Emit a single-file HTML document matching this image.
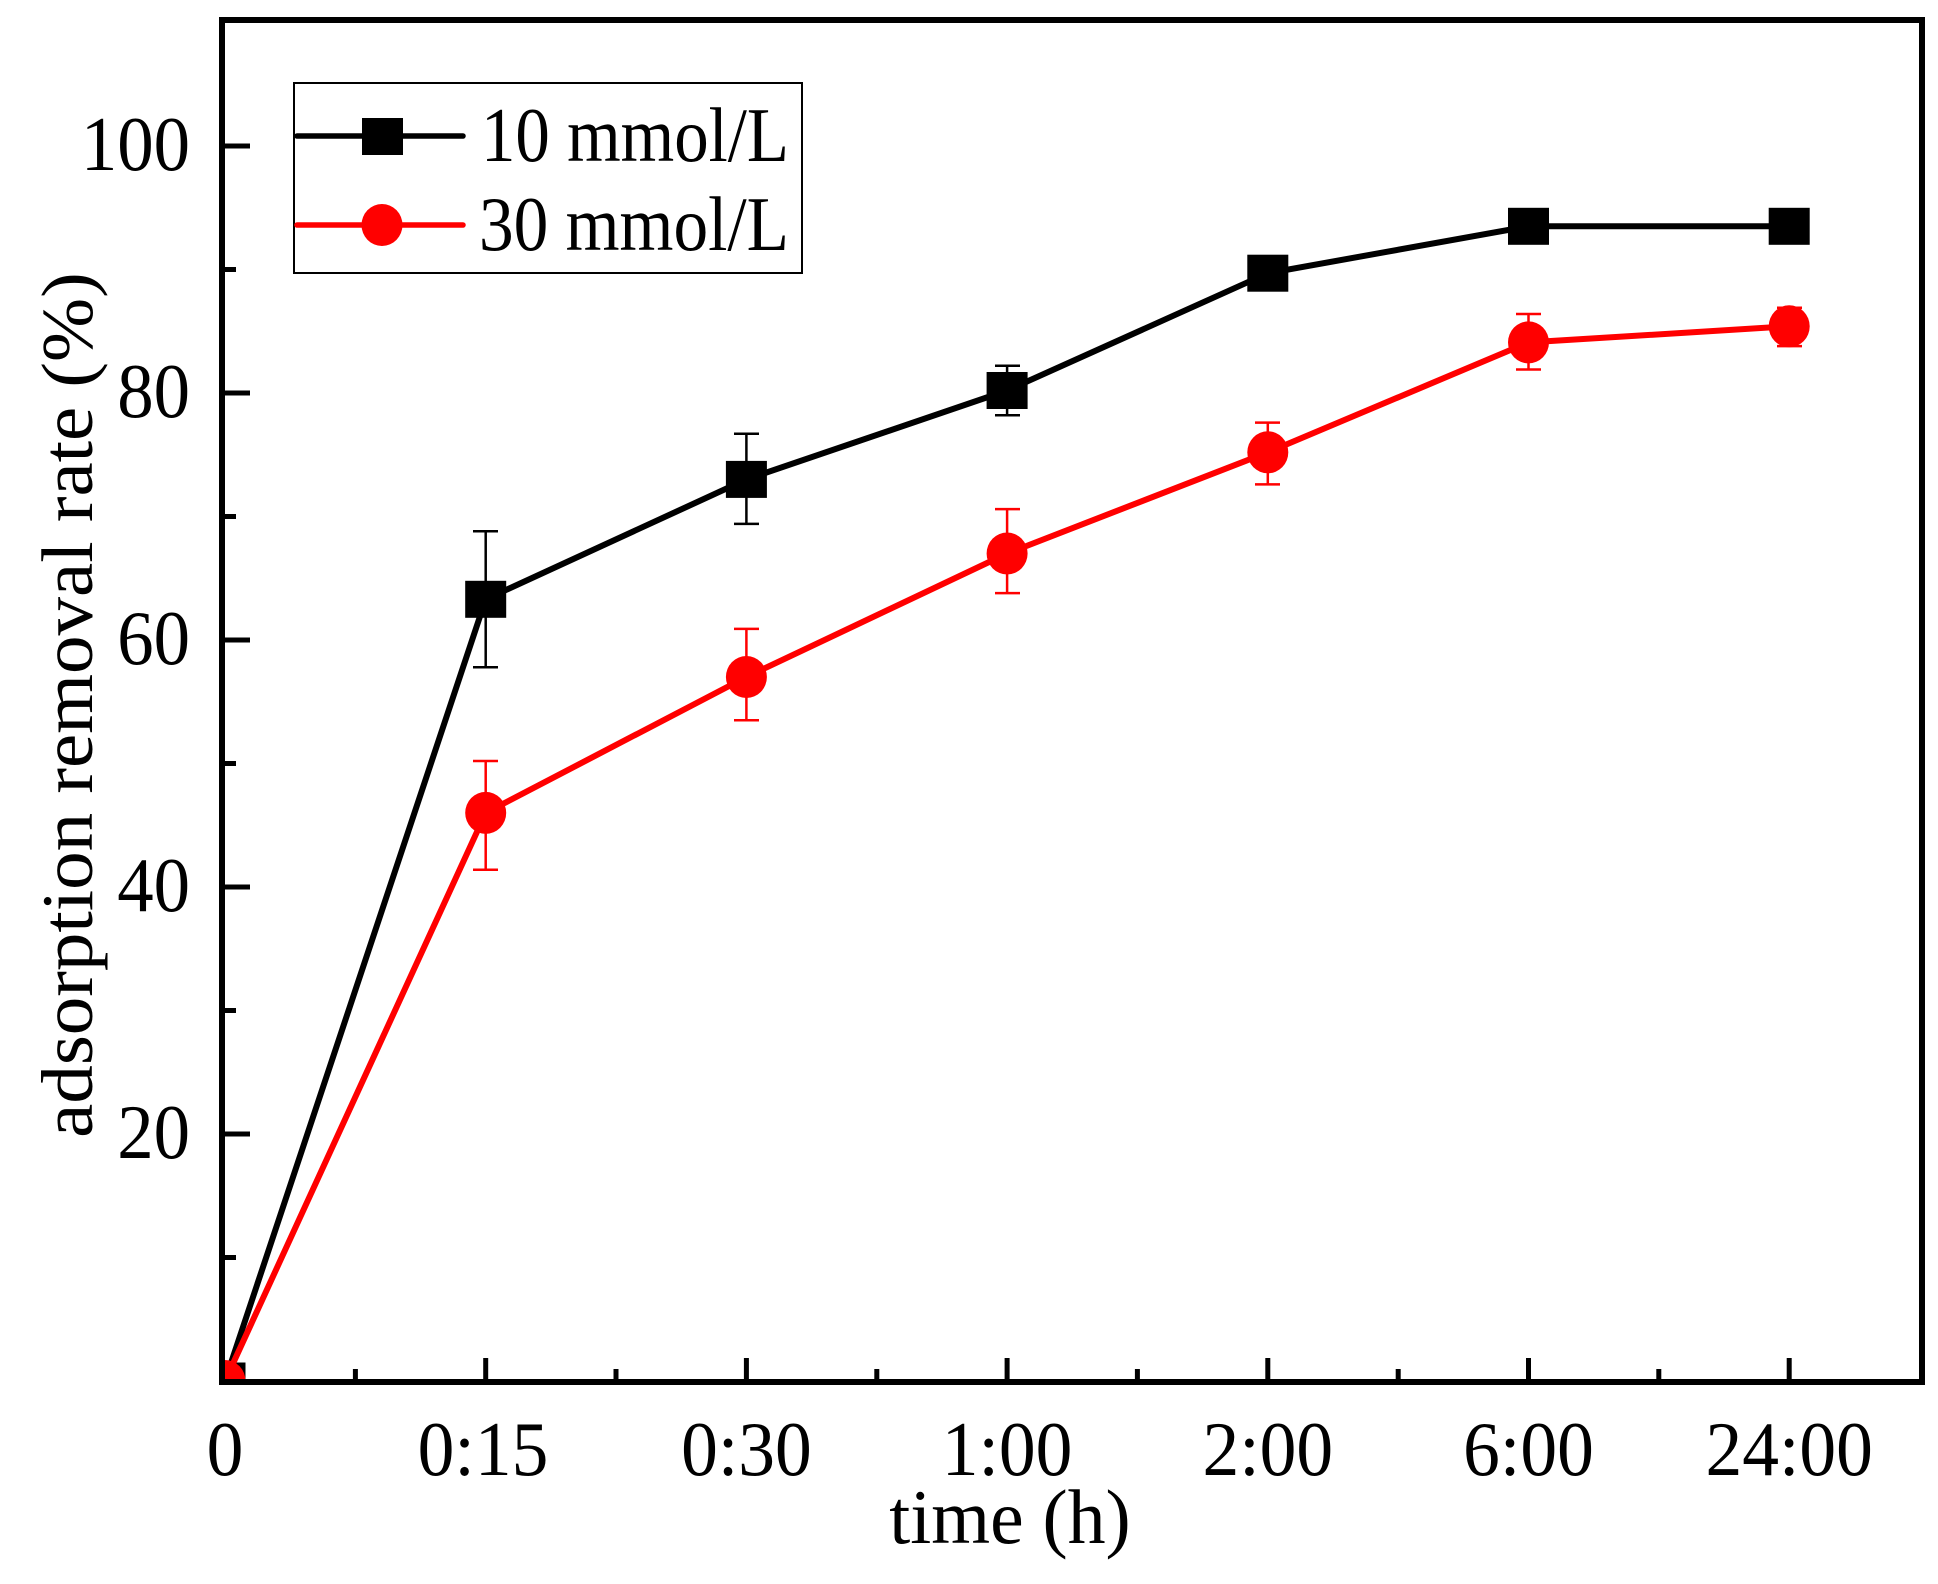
<!DOCTYPE html>
<html><head><style>html,body{margin:0;padding:0;background:#fff}svg{display:block}</style></head>
<body>
<svg width="1938" height="1584" viewBox="0 0 1938 1584" xmlns="http://www.w3.org/2000/svg" font-family="'Liberation Serif', serif">
<defs><clipPath id="c"><rect x="222" y="20" width="1700" height="1362"/></clipPath></defs>
<rect width="1938" height="1584" fill="#fff"/>
<g stroke="#000" stroke-width="5">
<line x1="222" y1="146" x2="250" y2="146"/><line x1="222" y1="393" x2="250" y2="393"/><line x1="222" y1="640" x2="250" y2="640"/><line x1="222" y1="887" x2="250" y2="887"/><line x1="222" y1="1134" x2="250" y2="1134"/>
<line x1="222" y1="269.5" x2="236" y2="269.5"/><line x1="222" y1="516.5" x2="236" y2="516.5"/><line x1="222" y1="763.5" x2="236" y2="763.5"/><line x1="222" y1="1010.5" x2="236" y2="1010.5"/><line x1="222" y1="1257.5" x2="236" y2="1257.5"/>
<line x1="485.7" y1="1382" x2="485.7" y2="1358"/><line x1="746.4" y1="1382" x2="746.4" y2="1358"/><line x1="1007.1" y1="1382" x2="1007.1" y2="1358"/><line x1="1267.8" y1="1382" x2="1267.8" y2="1358"/><line x1="1528.5" y1="1382" x2="1528.5" y2="1358"/><line x1="1789.2" y1="1382" x2="1789.2" y2="1358"/>
<line x1="355.4" y1="1382" x2="355.4" y2="1369"/><line x1="616" y1="1382" x2="616" y2="1369"/><line x1="876.8" y1="1382" x2="876.8" y2="1369"/><line x1="1137.4" y1="1382" x2="1137.4" y2="1369"/><line x1="1398.2" y1="1382" x2="1398.2" y2="1369"/><line x1="1658.8" y1="1382" x2="1658.8" y2="1369"/>
</g>
<g clip-path="url(#c)">
<g stroke="#000" stroke-width="2.5" fill="none">
<path d="M485.7 667.2V531.3M473 667.2h25M473 531.3h25"/>
<path d="M746.4 523.9V433.8M734 523.9h25M734 433.8h25"/>
<path d="M1007.1 415.2V365.8M995 415.2h25M995 365.8h25"/>
</g>
<g stroke="#f00" stroke-width="2.5" fill="none">
<path d="M485.7 869.7V761M473 869.7h25M473 761h25"/>
<path d="M746.4 720.3V628.9M734 720.3h25M734 628.9h25"/>
<path d="M1007.1 593.1V509.1M995 593.1h25M995 509.1h25"/>
<path d="M1267.8 484.4V422.6M1255 484.4h25M1255 422.6h25"/>
<path d="M1528.5 369.5V314M1516 369.5h25M1516 314h25"/>
<path d="M1789.2 346.1V307.8M1777 346.1h25M1777 307.8h25"/>
</g>
<polyline fill="none" stroke="#000" stroke-width="6" stroke-linejoin="round" points="225,1381 485.7,599.3 746.4,479.4 1007.1,390.5 1267.8,273.2 1528.5,226.3 1789.2,226.3"/>
<g fill="#000">
<rect x="204.5" y="1362.5" width="41" height="37"/><rect x="465.2" y="580.8" width="41" height="37"/><rect x="725.9" y="460.9" width="41" height="37"/><rect x="986.6" y="372" width="41" height="37"/><rect x="1247.3" y="254.7" width="41" height="37"/><rect x="1508" y="207.8" width="41" height="37"/><rect x="1768.7" y="207.8" width="41" height="37"/>
</g>
<polyline fill="none" stroke="#f00" stroke-width="6" stroke-linejoin="round" points="225,1381 485.7,812.9 746.4,677 1007.1,553.5 1267.8,452.3 1528.5,342.4 1789.2,326.3"/>
<g fill="#f00">
<ellipse cx="225" cy="1381" rx="20.5" ry="21"/><ellipse cx="485.7" cy="812.9" rx="20.5" ry="21"/><ellipse cx="746.4" cy="677" rx="20.5" ry="21"/><ellipse cx="1007.1" cy="553.5" rx="20.5" ry="21"/><ellipse cx="1267.8" cy="452.3" rx="20.5" ry="21"/><ellipse cx="1528.5" cy="342.4" rx="20.5" ry="21"/><ellipse cx="1789.2" cy="326.3" rx="20.5" ry="21"/>
</g>
</g>
<rect x="222" y="20" width="1700" height="1362" fill="none" stroke="#000" stroke-width="6"/>
<rect x="294" y="83" width="508" height="190" fill="#fff" stroke="#000" stroke-width="2"/>
<line x1="297" y1="136" x2="463" y2="136" stroke="#000" stroke-width="5.5" stroke-linecap="round"/>
<rect x="362" y="118" width="41" height="37" fill="#000"/>
<line x1="297" y1="225" x2="463" y2="225" stroke="#f00" stroke-width="5.5" stroke-linecap="round"/>
<ellipse cx="382" cy="225" rx="20.5" ry="21" fill="#f00"/>
<g font-size="70" fill="#000">
<text transform="translate(481,161) scale(1,1.1)" textLength="308" lengthAdjust="spacingAndGlyphs">10 mmol/L</text>
<text transform="translate(479,250) scale(1,1.1)" textLength="310" lengthAdjust="spacingAndGlyphs">30 mmol/L</text>
</g>
<g font-size="70" text-anchor="end" fill="#000">
<text transform="translate(190,170) scale(1.04,1.1)">100</text>
<text transform="translate(190,417) scale(1.04,1.1)">80</text>
<text transform="translate(190,664) scale(1.04,1.1)">60</text>
<text transform="translate(190,911) scale(1.04,1.1)">40</text>
<text transform="translate(190,1158) scale(1.04,1.1)">20</text>
</g>
<g font-size="70" text-anchor="middle" fill="#000">
<text transform="translate(225,1475) scale(1.05,1.1)">0</text>
<text transform="translate(483,1475) scale(1.05,1.1)">0:15</text>
<text transform="translate(746.4,1475) scale(1.05,1.1)">0:30</text>
<text transform="translate(1007.1,1475) scale(1.05,1.1)">1:00</text>
<text transform="translate(1267.8,1475) scale(1.05,1.1)">2:00</text>
<text transform="translate(1528.5,1475) scale(1.05,1.1)">6:00</text>
<text transform="translate(1789.2,1475) scale(1.05,1.1)">24:00</text>
<text transform="translate(1010,1543) scale(1.08,1.1)">time (h)</text>
<text transform="translate(92,705) rotate(-90) scale(1.1,1.04)">adsorption removal rate (%)</text>
</g>
</svg>
</body></html>
